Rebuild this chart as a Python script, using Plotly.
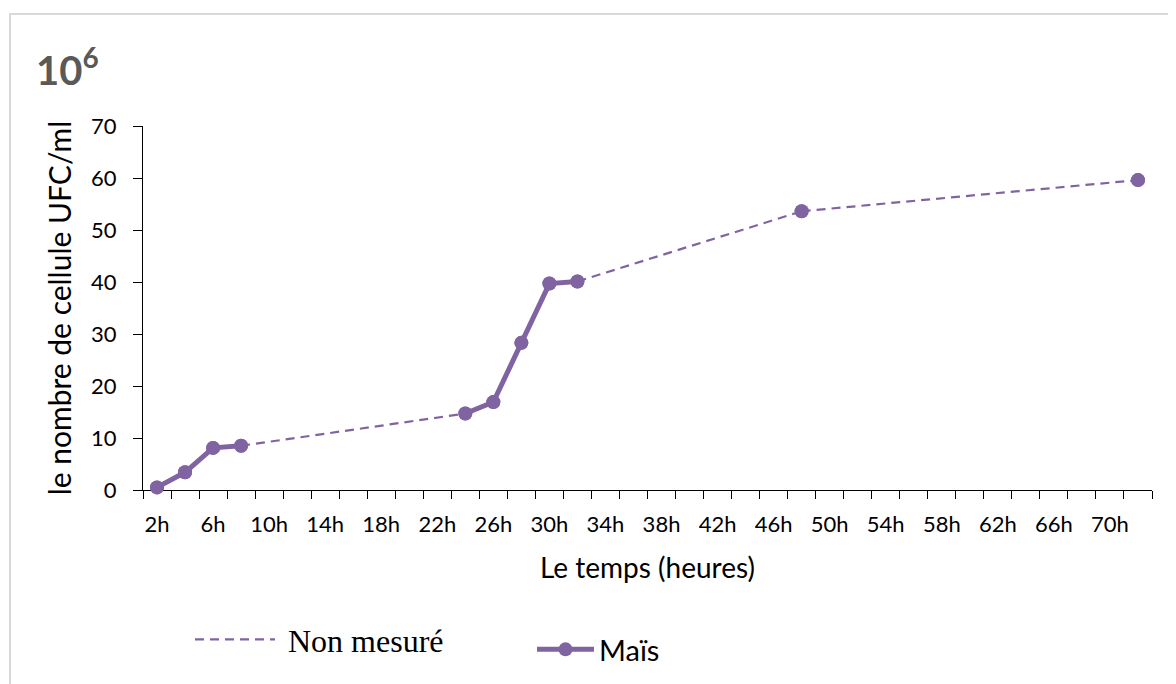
import plotly.graph_objects as go

# ---- data ----
hours = [2, 4, 6, 8, 24, 26, 28, 30, 32, 48, 72]
cells = [0.5, 3.4, 8.1, 8.5, 14.7, 16.9, 28.3, 39.7, 40.1, 53.6, 59.6]
measured_segment = [1, 1, 1, 1, 2, 2, 2, 2, 2, 3, 4]   # groups of consecutive measured points
tick_hours = list(range(2, 71, 4))
tick_labels = [f"{h}h" for h in tick_hours]
category_edges = list(range(1, 74, 2))
y_ticks = [0, 10, 20, 30, 40, 50, 60, 70]

COLOR = "#8064A2"

# solid segments (measured), broken between groups
sx, sy = [], []
for i, (h, c, g) in enumerate(zip(hours, cells, measured_segment)):
    if i > 0 and g != measured_segment[i - 1]:
        sx.append(None); sy.append(None)
    sx.append(h); sy.append(c)
# dashed connectors (not measured)
dx, dy = [], []
for i in range(1, len(hours)):
    if measured_segment[i] != measured_segment[i - 1]:
        dx += [hours[i - 1], hours[i], None]
        dy += [cells[i - 1], cells[i], None]

# figure is taller than the window so the legends never push the margins;
# only the top 684 px are visible.
W, H = 1168, 800
OFF = 8  # page body margin
# plot area in screen pixels
PX0, PX1, PY0, PY1 = 143, 1152, 126, 490
def px(x):
    return (x - PX0) / (PX1 - PX0)
def py(y):
    return (PY1 - y) / (PY1 - PY0)

fig = go.Figure()
fig.add_trace(go.Scatter(
    x=dx, y=dy, mode="lines", name="\u00a0Non mesuré",
    line=dict(color=COLOR, width=2.2, dash="9px,6px"),
    legend="legend", cliponaxis=False, hoverinfo="skip"))
fig.add_trace(go.Scatter(
    x=sx, y=sy, mode="lines+markers", name="Maïs",
    line=dict(color=COLOR, width=5),
    marker=dict(color=COLOR, size=14),
    legend="legend2", cliponaxis=False))
fig.add_trace(go.Scatter(
    x=hours, y=cells, mode="markers", showlegend=False,
    marker=dict(color=COLOR, size=14), cliponaxis=False))

FONT = "Lato"
fig.update_layout(
    width=W, height=H,
    margin=dict(l=PX0 - OFF, r=W - (PX1 - OFF), t=PY0 - OFF, b=H - (PY1 - OFF)),
    paper_bgcolor="white", plot_bgcolor="white",
    font=dict(family=FONT, color="black"),
    xaxis=dict(
        range=[1, 73], showgrid=False, zeroline=False,
        showline=True, linecolor="black", linewidth=1.3,
        tickmode="array", tickvals=tick_hours, ticktext=tick_labels,
        ticks="", tickfont=dict(size=22, family=FONT, color="black"),
        ticklabelstandoff=14,
        minor=dict(tickmode="array", tickvals=category_edges, ticks="outside",
                   ticklen=8, tickcolor="black", tickwidth=1.3, showgrid=False),
        title=dict(text="Le temps (heures)", font=dict(size=28, family=FONT), standoff=22),
        layer="below traces",
    ),
    yaxis=dict(
        range=[0, 70], showgrid=False, zeroline=False,
        showline=True, linecolor="black", linewidth=1.3,
        tickmode="array", tickvals=y_ticks,
        ticks="outside", ticklen=9, tickcolor="black", tickwidth=1.3,
        tickfont=dict(size=22, family=FONT, color="black"),
        ticklabelstandoff=12,
        title=dict(text="le nombre de cellule UFC/ml", font=dict(size=30, family=FONT), standoff=10),
        layer="below traces",
    ),
    legend=dict(
        x=px(190), y=py(612), xanchor="left", yanchor="top",
        font=dict(family="Liberation Serif", size=32, color="black"),
        itemwidth=80, bgcolor="rgba(0,0,0,0)", borderwidth=0,
    ),
    legend2=dict(
        x=px(532), y=py(624), xanchor="left", yanchor="top",
        font=dict(family=FONT, size=29, color="black"),
        itemwidth=57, bgcolor="rgba(0,0,0,0)", borderwidth=0,
    ),
    annotations=[dict(
        text="<b>10<sup>6</sup></b>", xref="paper", yref="paper",
        x=px(34), y=py(96), xanchor="left", yanchor="bottom",
        showarrow=False, font=dict(family=FONT, size=40, color="#595959"))],
    shapes=[dict(
        type="rect", xref="paper", yref="paper", layer="below",
        x0=px(10), x1=px(1200), y0=py(790), y1=py(14),
        line=dict(color="#D9D9D9", width=2), fillcolor="rgba(0,0,0,0)")],
    showlegend=True,
)

fig.write_html("out.html")
